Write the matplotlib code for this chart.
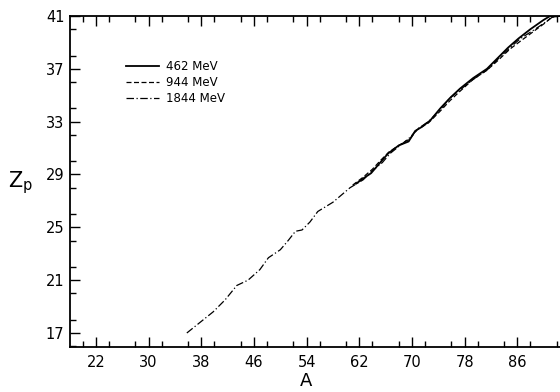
import matplotlib
matplotlib.use("Agg")
import matplotlib.pyplot as plt
from matplotlib.ticker import MultipleLocator, FixedLocator

# ---- data ----
A_1844 = [35.8, 37.8, 39.8, 41.6, 43.4, 45.1, 46.9, 48.2, 50.0, 51.2, 52.3, 53.3,
          54.5, 55.7, 58.0, 60.6, 62.6, 64.0, 65.5, 66.7, 68.2, 69.7, 71.0, 72.5,
          74.3, 75.8, 77.3, 79.3, 81.4, 83.0, 84.9, 86.5, 88.4, 90.5, 91.3, 92.5]
Z_1844 = [17.0, 17.8, 18.6, 19.5, 20.6, 21.0, 21.8, 22.7, 23.3, 24.0, 24.7, 24.8,
          25.4, 26.2, 26.9, 28.0, 28.6, 29.3, 29.9, 30.6, 31.2, 31.8, 32.5, 33.0,
          33.9, 34.8, 35.4, 36.2, 36.9, 37.7, 38.6, 39.3, 39.9, 40.6, 40.9, 41.0]

A_944 = [61.0, 62.6, 64.0, 65.3, 66.5, 68.0, 69.7, 70.8, 72.5, 74.3, 75.8,
         77.3, 79.3, 81.4, 83.0, 84.9, 86.5, 88.4, 90.3, 91.2, 92.5]
Z_944 = [28.2, 28.8, 29.4, 30.1, 30.7, 31.2, 31.7, 32.4, 32.9, 33.8, 34.6,
         35.3, 36.2, 36.9, 37.6, 38.5, 39.1, 39.8, 40.5, 40.9, 41.0]

A_462 = [61.5, 62.6, 63.8, 65.0, 66.4, 68.0, 69.5, 70.5, 71.5, 72.8, 74.3,
         75.8, 77.3, 79.3, 81.4, 83.0, 84.6, 86.2, 88.0, 90.0, 91.0, 92.5]
Z_462 = [28.3, 28.7, 29.1, 29.8, 30.6, 31.2, 31.5, 32.3, 32.6, 33.1, 34.0,
         34.8, 35.5, 36.3, 37.0, 37.8, 38.6, 39.3, 40.0, 40.7, 41.0, 41.0]

labels = ["462 MeV", "944 MeV", "1844 MeV"]
x_major = [22, 30, 38, 46, 54, 62, 70, 78, 86]
y_major = [17, 21, 25, 29, 33, 37, 41]

# ---- figure ----
W, H = 560, 392
fig = plt.figure(figsize=(W / 100, H / 100), dpi=100)
ax = fig.add_axes([70 / W, (H - 347) / H, (W - 70) / W, (347 - 16) / H])

ax.plot(A_462, Z_462, color="black", lw=1.3, ls="-", label=labels[0])
ax.plot(A_944, Z_944, color="black", lw=0.9, ls=(0, (4, 2)), label=labels[1])
ax.plot(A_1844, Z_1844, color="black", lw=0.9, ls=(0, (6, 2, 1, 2)), label=labels[2])

ax.set_xlim(18.05, 92.5)
ax.set_ylim(15.94, 41.0)

ax.xaxis.set_major_locator(FixedLocator(x_major))
ax.xaxis.set_minor_locator(MultipleLocator(4))
ax.yaxis.set_major_locator(FixedLocator(y_major))
ax.yaxis.set_minor_locator(MultipleLocator(2))

for s in ["left", "bottom", "top"]:
    ax.spines[s].set_linewidth(1.3)
ax.spines["right"].set_visible(False)

ax.tick_params(axis="x", which="both", direction="in", top=True, bottom=True,
               labelsize=10.5, pad=6, width=1.0)
ax.tick_params(axis="y", which="both", direction="in", left=True, right=False,
               labelsize=10.5, pad=4, width=1.0)
ax.tick_params(which="major", length=7)
ax.tick_params(which="minor", length=4.5)

ax.set_xlabel("A", fontsize=13, labelpad=2)
ax.xaxis.set_label_coords((306 - 70) / 490, -0.075)
fig.text(8 / W, 1 - 183 / H, r"$\mathregular{Z_p}$", fontsize=15, ha="left", va="center")

leg = ax.legend(loc="upper left", bbox_to_anchor=(0.105, 0.88), frameon=False,
                fontsize=8.5, handlelength=2.8, handletextpad=0.6,
                labelspacing=0.25, borderaxespad=0)

fig.savefig("out.png", dpi=100)
